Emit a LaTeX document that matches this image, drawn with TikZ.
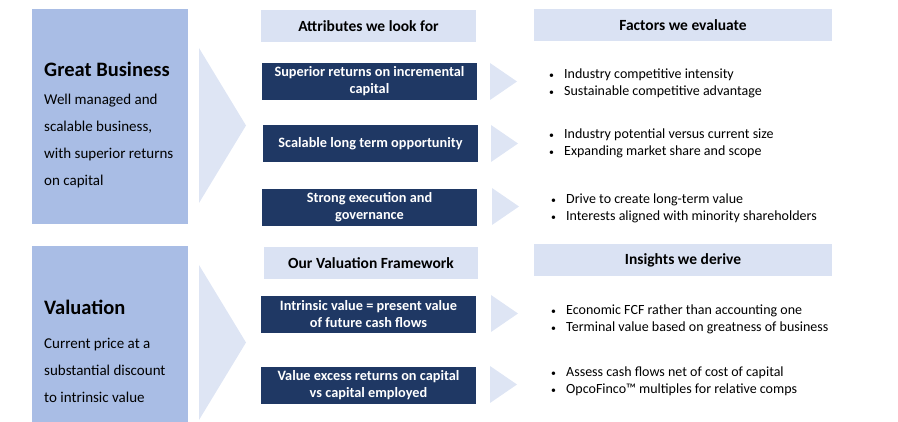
\documentclass[tikz,border=0pt]{standalone}
\usepackage{fontspec}
\setmainfont{Carlito}
\usepackage{tikz}
\usetikzlibrary{positioning}
\definecolor{bigblue}{HTML}{A9BDE5}
\definecolor{headblue}{HTML}{DAE2F3}
\definecolor{chevblue}{HTML}{DEE5F4}
\definecolor{navy}{HTML}{1F3864}
\newcommand{\bul}{\makebox[15pt][l]{\scalebox{0.7}{\textbullet}}}

\begin{document}
\begin{tikzpicture}[x=1pt, y=-1pt,
    bigbox/.style={fill=bigblue, minimum width=156pt, inner sep=0pt},
    headbox/.style={fill=headblue, minimum height=32pt, inner sep=0pt, font=\fontsize{15.5}{17}\selectfont\bfseries},
    attrbox/.style={fill=navy, text=white, minimum width=215pt, minimum height=37pt, inner sep=0pt, align=center, font=\fontsize{14.3}{17}\selectfont\bfseries},
    chev/.style={fill=chevblue},
    bullets/.style={anchor=west, align=left, inner sep=0pt, font=\fontsize{14}{17}\selectfont}]
    \useasboundingbox (0,0) rectangle (898,422);

    % Great Business
    \node[bigbox, minimum height=215pt] (gb) at (110, 116.5) {};
    \node[anchor=west, inner sep=0pt, font=\fontsize{20.5}{22}\selectfont\bfseries] (gbtitle) at (44, 69) {Great Business};
    \node[anchor=west, align=left, inner sep=0pt, font=\fontsize{15}{27}\selectfont] (gbtext) at (44, 141)
        {Well managed and\\scalable business,\\with superior returns\\on capital};
    \fill[chev] (199, 48) -- (246, 125.5) -- (199, 203) -- cycle;

    % Valuation
    \node[bigbox, minimum height=176pt] (val) at (110, 334) {};
    \node[anchor=west, inner sep=0pt, font=\fontsize{20.5}{22}\selectfont\bfseries] (valtitle) at (44, 307.5) {Valuation};
    \node[anchor=west, align=left, inner sep=0pt, font=\fontsize{15}{27}\selectfont] (valtext) at (44, 370)
        {Current price at a\\substantial discount\\to intrinsic value};
    \fill[chev] (199, 265) -- (246, 342.5) -- (199, 420) -- cycle;

    % Attributes we look for
    \node[headbox, minimum width=215pt] (attrhead) at (368.5, 26.5) {Attributes we look for};
    \node[attrbox] (attr1) at (369.5, 81.5) {Superior returns on incremental\\capital};
    \node[attrbox] (attr2) at (370.5, 144) {Scalable long term opportunity};
    \node[attrbox] (attr3) at (369.5, 207.5) {Strong execution and\\governance};
    \fill[chev] (490, 63) -- (517, 81.5) -- (490, 100) -- cycle;
    \fill[chev] (491, 125) -- (518, 143.5) -- (491, 162) -- cycle;
    \fill[chev] (492, 188) -- (519, 206.5) -- (492, 225) -- cycle;

    % Our Valuation Framework
    \node[headbox, minimum width=214pt] (valhead) at (371, 263) {Our Valuation Framework};
    \node[attrbox] (frame1) at (368.5, 314.5) {Intrinsic value = present value\\of future cash flows};
    \node[attrbox] (frame2) at (368.5, 385.5) {Value excess returns on capital\\vs capital employed};
    \fill[chev] (491, 295) -- (518, 313.5) -- (491, 332) -- cycle;
    \fill[chev] (490, 366) -- (517, 384.5) -- (490, 403) -- cycle;

    % Factors we evaluate
    \node[headbox, minimum width=298pt] (facthead) at (683, 25) {Factors we evaluate};
    \node[bullets] (fact1) at (549, 83)
        {\bul Industry competitive intensity\\\bul Sustainable competitive advantage};
    \node[bullets] (fact2) at (549, 143.5)
        {\bul Industry potential versus current size\\\bul Expanding market share and scope};
    \node[bullets] (fact3) at (551, 208)
        {\bul Drive to create long-term value\\\bul Interests aligned with minority shareholders};

    % Insights we derive
    \node[headbox, minimum width=298pt] (inshead) at (683, 260) {Insights we derive};
    \node[bullets] (ins1) at (551, 319.5)
        {\bul Economic FCF rather than accounting one\\\bul Terminal value based on greatness of business};
    \node[bullets] (ins2) at (551, 381)
        {\bul Assess cash flows net of cost of capital\\\bul OpcoFinco™ multiples for relative comps};
\end{tikzpicture}
\end{document}
